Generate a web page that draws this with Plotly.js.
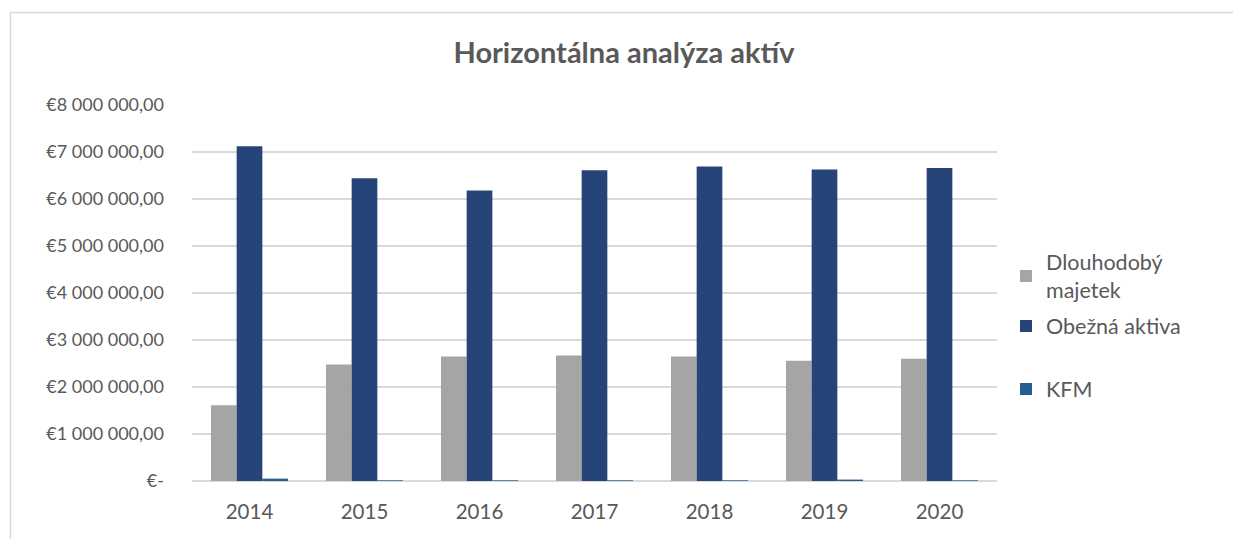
<!DOCTYPE html>
<html>
<head>
<meta charset="utf-8">
<script src="https://cdn.plot.ly/plotly-3.0.1.min.js"></script>
<style>
  html, body { margin: 0; padding: 0; background: #fff; }
  #chart { width: 1233px; height: 539px; }
</style>
</head>
<body>
<div id="chart"></div>
<script>
const years = ["2014", "2015", "2016", "2017", "2018", "2019", "2020"];
const dlouhodoby = [1610000, 2480000, 2650000, 2670000, 2650000, 2560000, 2600000];
const obezna = [7120000, 6440000, 6180000, 6610000, 6690000, 6630000, 6660000];
const kfm = [50000, 15000, 15000, 15000, 15000, 30000, 15000];
const yTickVals = [0, 1000000, 2000000, 3000000, 4000000, 5000000, 6000000, 7000000, 8000000];
const yTickText = ["€-", "€1 000 000,00", "€2 000 000,00", "€3 000 000,00", "€4 000 000,00",
                   "€5 000 000,00", "€6 000 000,00", "€7 000 000,00", "€8 000 000,00"];

const fontFam = "Lato, 'Open Sans', sans-serif";
const txtCol = "#595959";

const traces = [
  { type: "bar", name: "Dlouhodobý<br>majetek", x: years, y: dlouhodoby,
    marker: { color: "#a5a5a5" }, legend: "legend" },
  { type: "bar", name: "Obežná aktiva", x: years, y: obezna,
    marker: { color: "#264478" }, legend: "legend2" },
  { type: "bar", name: "KFM", x: years, y: kfm,
    marker: { color: "#255e91" }, legend: "legend3" }
];

const legendBase = {
  xref: "container", yref: "container", xanchor: "left", yanchor: "middle",
  x: 1006 / 1233, font: { family: fontFam, size: 21.5, color: txtCol },
  bgcolor: "rgba(0,0,0,0)", itemwidth: 30
};

const layout = {
  width: 1233, height: 539,
  paper_bgcolor: "#ffffff", plot_bgcolor: "#ffffff",
  margin: { l: 192, r: 236, t: 105, b: 58 },
  title: { text: "<b>Horizontálna analýza aktív</b>", x: 624 / 1233, xref: "container",
           xanchor: "center", y: 1 - 53 / 539, yref: "container", yanchor: "middle",
           font: { family: fontFam, size: 29, color: txtCol } },
  barmode: "group", bargap: 0.33, bargroupgap: 0,
  xaxis: { type: "category", tickfont: { family: fontFam, size: 20.5, color: txtCol },
           showline: false, showgrid: false, ticks: "", ticklabelstandoff: 16 },
  yaxis: { range: [0, 8000000], tickvals: yTickVals, ticktext: yTickText,
           tickfont: { family: fontFam, size: 18, color: txtCol },
           gridcolor: "#d9d9d9", gridwidth: 1.5, zeroline: true, zerolinecolor: "#d9d9d9",
           zerolinewidth: 1.5, showline: false, ticks: "", ticklabelstandoff: 27 },
  showlegend: true,
  legend: Object.assign({}, legendBase, { y: 1 - 276 / 539 }),
  legend2: Object.assign({}, legendBase, { y: 1 - 326 / 539 }),
  legend3: Object.assign({}, legendBase, { y: 1 - 389 / 539 }),
  shapes: [
    { type: "rect", xref: "paper", yref: "paper", layer: "below",
      x0: -192 / 805 + 10.5 / 805, x1: 1.4, y0: -0.5, y1: 1 + 92.5 / 376,
      line: { color: "#d9d9d9", width: 1.5 } }
  ]
};

Plotly.newPlot("chart", traces, layout, { displayModeBar: false, staticPlot: true });
</script>
</body>
</html>
